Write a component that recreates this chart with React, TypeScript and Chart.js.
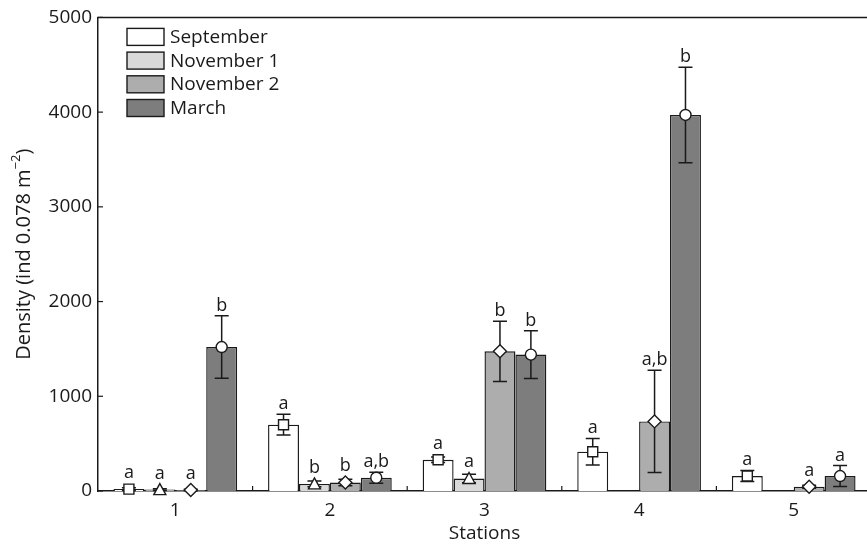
import React, { useEffect, useRef } from 'react';
import { Chart, registerables } from 'chart.js';

Chart.register(...registerables);

// ---- data ----
const stations = ['1', '2', '3', '4', '5'];
const seriesNames = ['September', 'November 1', 'November 2', 'March'];
const september = [20, 700, 330, 415, 158];
const septemberErr = [15, 110, 30, 140, 58];
const november1 = [15, 75, 132, null, null];
const november1Err = [10, 30, 45, 0, 0];
const november2 = [10, 90, 1475, 735, 45];
const november2Err = [8, 35, 318, 540, 15];
const march = [1520, 140, 1440, 3970, 158];
const marchErr = [330, 58, 252, 505, 110];
const septemberLetters = ['a', 'a', 'a', 'a', 'a'];
const november1Letters = ['a', 'b', 'a', '', ''];
const november2Letters = ['a', 'b', 'b', 'a,b', 'a'];
const marchLetters = ['b', 'a,b', 'b', 'b', 'a'];
const yTickValues = [0, 1000, 2000, 3000, 4000, 5000];

const seriesValues = [september, november1, november2, march];
const seriesErrors = [septemberErr, november1Err, november2Err, marchErr];
const seriesLetters = [septemberLetters, november1Letters, november2Letters, marchLetters];
const seriesColors = ['#ffffff', '#d9d9d9', '#adadad', '#7d7d7d'];
const markerShapes = ['square', 'triangle', 'diamond', 'circle'];

const FAMILY = "'Open Sans', 'DejaVu Sans', sans-serif";
const INK = '#1a1a1a';
const FS = 19;

function drawMarker(ctx: CanvasRenderingContext2D, shape: string, x: number, y: number) {
  ctx.beginPath();
  if (shape === 'square') {
    ctx.rect(x - 5, y - 5, 10, 10);
  } else if (shape === 'triangle') {
    ctx.moveTo(x, y - 6);
    ctx.lineTo(x + 6, y + 5);
    ctx.lineTo(x - 6, y + 5);
    ctx.closePath();
  } else if (shape === 'diamond') {
    ctx.moveTo(x, y - 6.5);
    ctx.lineTo(x + 6.5, y);
    ctx.lineTo(x, y + 6.5);
    ctx.lineTo(x - 6.5, y);
    ctx.closePath();
  } else {
    ctx.arc(x, y, 5.5, 0, Math.PI * 2);
  }
  ctx.fillStyle = '#ffffff';
  ctx.fill();
  ctx.lineWidth = 1.4;
  ctx.strokeStyle = INK;
  ctx.stroke();
}

const overlay = {
  id: 'overlay',
  afterDatasetsDraw(chart: any) {
    const ctx: CanvasRenderingContext2D = chart.ctx;
    const { left, right, top, bottom } = chart.chartArea;
    const ys = chart.scales.y;
    ctx.save();

    // frame top line
    ctx.strokeStyle = INK;
    ctx.lineWidth = 1.5;
    ctx.beginPath();
    ctx.moveTo(left - 0.75, top);
    ctx.lineTo(chart.width, top);
    ctx.stroke();

    // inward ticks on y axis
    ctx.lineWidth = 1.2;
    yTickValues.forEach((v) => {
      const py = ys.getPixelForValue(v);
      ctx.beginPath();
      ctx.moveTo(left, py);
      ctx.lineTo(left + 5, py);
      ctx.stroke();
    });
    // inward ticks on x axis at category boundaries
    const cw = (right - left) / stations.length;
    for (let i = 1; i < stations.length; i++) {
      const px = left + cw * i;
      ctx.beginPath();
      ctx.moveTo(px, bottom);
      ctx.lineTo(px, bottom - 5);
      ctx.stroke();
    }

    // error bars, markers, letters
    for (let d = 0; d < seriesValues.length; d++) {
      const meta = chart.getDatasetMeta(d);
      meta.data.forEach((bar: any, i: number) => {
        const v = seriesValues[d][i];
        if (v == null) return;
        const e = seriesErrors[d][i];
        const x = bar.x;
        const yv = ys.getPixelForValue(v);
        let topPix = yv - 6;
        if (e > 0) {
          const yh = ys.getPixelForValue(v + e);
          const yl = ys.getPixelForValue(Math.max(0, v - e));
          ctx.strokeStyle = INK;
          ctx.lineWidth = 1.5;
          ctx.beginPath();
          ctx.moveTo(x, yh);
          ctx.lineTo(x, yl);
          ctx.moveTo(x - 7, yh);
          ctx.lineTo(x + 7, yh);
          ctx.moveTo(x - 7, yl);
          ctx.lineTo(x + 7, yl);
          ctx.stroke();
          topPix = Math.min(topPix, yh);
        }
        drawMarker(ctx, markerShapes[d], x, yv);
        const letter = seriesLetters[d][i];
        if (letter) {
          ctx.fillStyle = INK;
          ctx.font = `${FS - 1}px ${FAMILY}`;
          ctx.textAlign = 'center';
          ctx.textBaseline = 'alphabetic';
          ctx.fillText(letter, x, topPix - 5);
        }
      });
    }

    // legend
    seriesNames.forEach((name, i) => {
      const bx = left + 29;
      const by = top + 11 + i * 23.7;
      ctx.fillStyle = seriesColors[i];
      ctx.fillRect(bx, by, 37, 17);
      ctx.strokeStyle = INK;
      ctx.lineWidth = 1.4;
      ctx.strokeRect(bx, by, 37, 17);
      ctx.fillStyle = INK;
      ctx.font = `${FS}px ${FAMILY}`;
      ctx.textAlign = 'left';
      ctx.textBaseline = 'middle';
      ctx.fillText(name, bx + 43, by + 9);
    });

    // y axis title with superscript
    ctx.save();
    ctx.translate(24, (top + bottom) / 2);
    ctx.rotate(-Math.PI / 2);
    ctx.fillStyle = INK;
    ctx.textBaseline = 'middle';
    ctx.textAlign = 'left';
    const main = 'Density (ind 0.078 m';
    const sup = '\u22122';
    const close = ')';
    const tf = 20;
    ctx.font = `${tf}px ${FAMILY}`;
    const wMain = ctx.measureText(main).width;
    const wClose = ctx.measureText(close).width;
    ctx.font = `13px ${FAMILY}`;
    const wSup = ctx.measureText(sup).width;
    const total = wMain + wSup + wClose;
    let cx = -total / 2;
    ctx.font = `${tf}px ${FAMILY}`;
    ctx.fillText(main, cx, 0);
    cx += wMain;
    ctx.font = `13px ${FAMILY}`;
    ctx.fillText(sup, cx, -8);
    cx += wSup;
    ctx.font = `${tf}px ${FAMILY}`;
    ctx.fillText(close, cx, 0);
    ctx.restore();

    ctx.restore();
  },
};

export default function App() {
  const ref = useRef<HTMLCanvasElement>(null);

  useEffect(() => {
    const canvas = ref.current;
    if (!canvas) return;
    const chart = new Chart(canvas, {
      type: 'bar',
      data: {
        labels: stations,
        datasets: seriesNames.map((name, d) => ({
          label: name,
          data: seriesValues[d] as any,
          backgroundColor: seriesColors[d],
          borderColor: INK,
          borderWidth: 1.4,
          categoryPercentage: 0.8,
          barPercentage: 1.0,
        })),
      },
      options: {
        responsive: false,
        animation: false,
        devicePixelRatio: 1,
        layout: { padding: { top: 17, left: 0, right: 0, bottom: 0 } },
        plugins: {
          legend: { display: false },
          tooltip: { enabled: false },
        },
        scales: {
          x: {
            grid: { display: false, drawTicks: false },
            border: { display: true, color: INK, width: 1.5 },
            ticks: { font: { family: FAMILY, size: FS }, color: INK, padding: 8 },
            title: {
              display: true,
              text: 'Stations',
              font: { family: FAMILY, size: FS },
              color: INK,
              padding: { top: 0, bottom: 3 },
            },
            afterFit: (s: any) => {
              s.height = 57;
            },
          },
          y: {
            min: 0,
            max: 5000,
            afterBuildTicks: (s: any) => {
              s.ticks = yTickValues.map((v) => ({ value: v }));
            },
            grid: { display: false, drawTicks: false },
            border: { display: true, color: INK, width: 1.5 },
            ticks: {
              font: { family: FAMILY, size: FS },
              color: INK,
              padding: 6,
              callback: (v: any) => String(v),
            },
            title: { display: false },
            afterFit: (s: any) => {
              s.width = 98;
            },
          },
        },
      },
      plugins: [overlay],
    });
    return () => chart.destroy();
  }, []);

  return (
    <div
      style={{
        position: 'fixed',
        left: 0,
        top: 0,
        width: 867,
        height: 548,
        overflow: 'hidden',
        background: '#ffffff',
      }}
    >
      <canvas ref={ref} width={871} height={548} style={{ display: 'block' }} />
    </div>
  );
}
